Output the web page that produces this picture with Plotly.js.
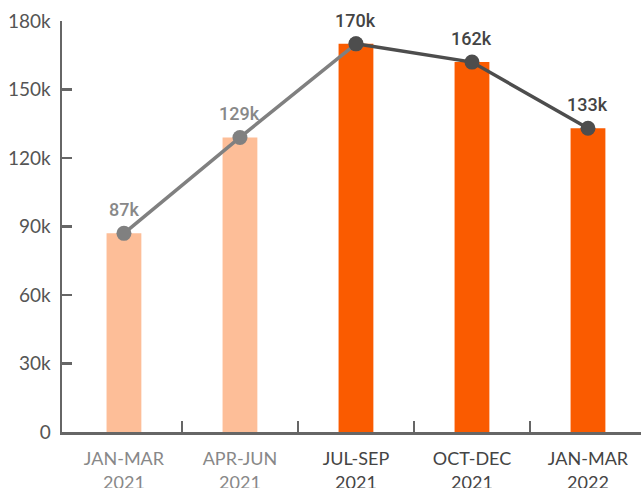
<!DOCTYPE html>
<html>
<head>
<meta charset="utf-8">
<script src="https://cdn.plot.ly/plotly-3.0.1.min.js"></script>
<style>
  html, body { margin: 0; padding: 0; background: #fff; }
  #chart { width: 641px; height: 488px; }
</style>
</head>
<body>
<div id="chart"></div>
<script>
// ---- data ----
const categories = ["JAN-MAR<br>2021", "APR-JUN<br>2021", "JUL-SEP<br>2021", "OCT-DEC<br>2021", "JAN-MAR<br>2022"];
const values = [87, 129, 170, 162, 133];          // thousands
const valueLabels = ["87k", "129k", "170k", "162k", "133k"];
const isPast = [true, true, false, false, false]; // first two quarters drawn muted
const yTickVals = [0, 30, 60, 90, 120, 150, 180];
const yTickText = ["0", "30k", "60k", "90k", "120k", "150k", "180k"];

// ---- styles ----
const barLight = "#FDBE98", barDark = "#FA5B00";
const lineLight = "#808080", lineDark = "#4D4D4D";
const labelLight = "#888888", labelDark = "#444444";

const idx = categories.map((_, i) => i);
const pastIdx = idx.filter(i => isPast[i] || (i > 0 && isPast[i - 1]));
const nowIdx = idx.filter(i => !isPast[i]);

const traces = [
  {
    type: "bar", x: idx, y: values, width: 0.3,
    marker: { color: idx.map(i => isPast[i] ? barLight : barDark) },
    hoverinfo: "skip"
  },
  {
    type: "scatter", mode: "lines+markers",
    x: pastIdx, y: pastIdx.map(i => values[i]),
    line: { color: lineLight, width: 3.5 },
    marker: { color: lineLight, size: 15 },
    hoverinfo: "skip"
  },
  {
    type: "scatter", mode: "lines+markers",
    x: nowIdx, y: nowIdx.map(i => values[i]),
    line: { color: lineDark, width: 3.5 },
    marker: { color: lineDark, size: 15 },
    hoverinfo: "skip"
  },
  { type: "scatter", x: [0], y: [0], xaxis: "x2", mode: "none", hoverinfo: "skip", showlegend: false }
];

const annotations = idx.map(i => ({
  x: i, y: values[i], xref: "x", yref: "y",
  text: valueLabels[i],
  showarrow: false, yanchor: "bottom", yshift: 11,
  font: { family: "Roboto, Arial, sans-serif", size: 18, weight: 500, color: isPast[i] ? labelLight : labelDark }
}));

const xRange = [-0.534, 4.457];

const layout = {
  width: 641, height: 488,
  margin: { l: 62, r: 0, t: 21, b: 56, pad: 0 },
  paper_bgcolor: "#fff", plot_bgcolor: "#fff",
  showlegend: false,
  font: { family: "Lato, sans-serif", color: "#555" },
  xaxis: {
    type: "linear", range: xRange, fixedrange: true,
    tickvals: idx,
    ticktext: idx.map(i => `<span style="color:${isPast[i] ? labelLight : labelDark}">${categories[i]}</span>`),
    tickfont: { family: "Lato, sans-serif", size: 18 },
    ticklabelstandoff: 9,
    ticks: "", showgrid: false, zeroline: false,
    showline: true, linecolor: "#666", linewidth: 2.5
  },
  xaxis2: {
    overlaying: "x", anchor: "y", range: xRange, fixedrange: true,
    tickvals: idx.slice(0, -1).map(i => i + 0.5),
    ticks: "inside", ticklen: 11, tickwidth: 2.5, tickcolor: "#666",
    showticklabels: false, showgrid: false, zeroline: false, showline: false
  },
  yaxis: {
    range: [0, 180], fixedrange: true,
    tickvals: yTickVals, ticktext: yTickText,
    tickfont: { family: "Lato, sans-serif", size: 19, color: "#555" },
    ticklabelstandoff: 5,
    ticks: "inside", ticklen: 10, tickwidth: 2.5, tickcolor: "#666",
    showgrid: false, zeroline: false,
    showline: true, linecolor: "#666", linewidth: 2.5
  },
  annotations: annotations
};

Plotly.newPlot("chart", traces, layout, { staticPlot: true, displayModeBar: false });
</script>
</body>
</html>
